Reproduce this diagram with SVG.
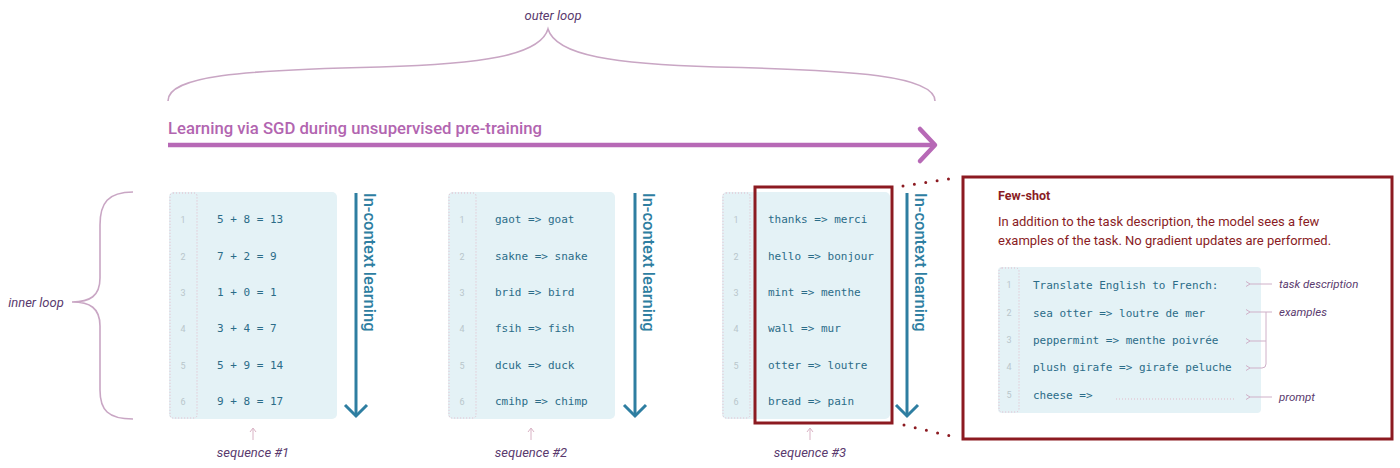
<svg xmlns="http://www.w3.org/2000/svg" width="1400" height="468" viewBox="0 0 1400 468">
<defs>
<style>
.lbl{font-family:Roboto,"Liberation Sans",sans-serif;font-style:italic;font-size:13px;fill:#5a3a6e}
.ann{font-family:Roboto,"Liberation Sans",sans-serif;font-style:italic;font-size:11.5px;fill:#5a3a6e}
.mono{font-family:"DejaVu Sans Mono","Liberation Mono",monospace;font-size:11px;fill:#2b6c88}
.num{font-family:Roboto,"Liberation Sans",sans-serif;font-size:9px;fill:#b9c6cb;text-anchor:middle}
.panel{fill:#e4f2f6}
.col{fill:none;stroke:#e2b9c9;stroke-width:1;stroke-dasharray:1 2}
.brace{fill:none;stroke:#c9a6c4;stroke-width:1.6}
.icl{font-family:Roboto,"Liberation Sans",sans-serif;font-weight:500;font-size:16.5px;fill:#2e7ea1}
.iclarrow{fill:none;stroke:#2e7ea1;stroke-width:3}
.red{fill:none;stroke:#8c1a21;stroke-width:3}
.dots{fill:none;stroke:#8c1a21;stroke-width:3;stroke-linecap:round;stroke-dasharray:0 11.5}
.thin{fill:none;stroke:#cfb0c8;stroke-width:1}
.seqarrow{fill:none;stroke:#d9b2c4;stroke-width:1}
</style>
<marker id="ah" markerWidth="8" markerHeight="8" refX="1" refY="4" orient="auto" markerUnits="userSpaceOnUse">
<path d="M5,1.5 L1,4 L5,6.5" fill="none" stroke="#cfb0c8" stroke-width="1"/>
</marker>
</defs>

<!-- outer loop -->
<g id="outer-loop">
<text class="lbl" x="553" y="20" text-anchor="middle" font-size="12">outer loop</text>
<path class="brace" d="M168,101 C168,76 240,70 380,67 C480,64 540,56 548,29 C556,56 616,64 716,67 C856,70 935,76 935,101"/>
</g>

<g id="sgd">
<text x="168" y="134" font-family="Roboto,'Liberation Sans',sans-serif" font-weight="500" font-size="16.7" fill="#b265b0">Learning via SGD during unsupervised pre-training</text>
<line x1="168" y1="145" x2="933" y2="145" stroke="#b769b6" stroke-width="4.5"/>
<path d="M920,129 L935,145 L920,161" fill="none" stroke="#b769b6" stroke-width="4.5" stroke-linecap="round" stroke-linejoin="round"/>
</g>

<!-- inner loop -->
<g id="inner-loop">
<text class="lbl" x="36" y="307" text-anchor="middle" font-size="12.5">inner loop</text>
<path class="brace" d="M133,192 C108,192 100,203 100,225 L100,278 C100,296 90,302 72,302 C90,302 100,308 100,326 L100,390 C100,410 108,419 133,419"/>
</g>

<!-- sequence 1 -->
<g id="seq1">
<rect class="panel" x="169" y="192" width="168" height="227" rx="5"/>
<rect class="col" x="170" y="193" width="27" height="225" rx="3"/>
<text class="num" x="183" y="223">1</text>
<text class="num" x="183" y="260">2</text>
<text class="num" x="183" y="296">3</text>
<text class="num" x="183" y="332">4</text>
<text class="num" x="183" y="369">5</text>
<text class="num" x="183" y="405">6</text>
<text class="mono" x="217" y="223">5 + 8 = 13</text>
<text class="mono" x="217" y="260">7 + 2 = 9</text>
<text class="mono" x="217" y="296">1 + 0 = 1</text>
<text class="mono" x="217" y="332">3 + 4 = 7</text>
<text class="mono" x="217" y="369">5 + 9 = 14</text>
<text class="mono" x="217" y="405">9 + 8 = 17</text>
<line class="iclarrow" x1="356" y1="193" x2="356" y2="416"/>
<path class="iclarrow" d="M345,405 L356,416 L367,405"/>
<text class="icl" transform="translate(364,193) rotate(90)">In-context learning</text>
<path class="seqarrow" d="M253,440 L253,429 M250,432 L253,428 L256,432"/>
<text class="lbl" x="253" y="457" text-anchor="middle">sequence #1</text>
</g>

<!-- sequence 2 -->
<g id="seq2">
<rect class="panel" x="448" y="192" width="167" height="227" rx="5"/>
<rect class="col" x="449" y="193" width="27" height="225" rx="3"/>
<text class="num" x="462" y="223">1</text>
<text class="num" x="462" y="260">2</text>
<text class="num" x="462" y="296">3</text>
<text class="num" x="462" y="332">4</text>
<text class="num" x="462" y="369">5</text>
<text class="num" x="462" y="405">6</text>
<text class="mono" x="495" y="223">gaot =&gt; goat</text>
<text class="mono" x="495" y="260">sakne =&gt; snake</text>
<text class="mono" x="495" y="296">brid =&gt; bird</text>
<text class="mono" x="495" y="332">fsih =&gt; fish</text>
<text class="mono" x="495" y="369">dcuk =&gt; duck</text>
<text class="mono" x="495" y="405">cmihp =&gt; chimp</text>
<line class="iclarrow" x1="635" y1="193" x2="635" y2="416"/>
<path class="iclarrow" d="M624,405 L635,416 L646,405"/>
<text class="icl" transform="translate(643,193) rotate(90)">In-context learning</text>
<path class="seqarrow" d="M531,440 L531,429 M528,432 L531,428 L534,432"/>
<text class="lbl" x="531" y="457" text-anchor="middle">sequence #2</text>
</g>

<!-- sequence 3 -->
<g id="seq3">
<rect class="panel" x="722" y="192" width="168" height="227" rx="5"/>
<rect class="col" x="723" y="193" width="27" height="225" rx="3"/>
<text class="num" x="736" y="223">1</text>
<text class="num" x="736" y="260">2</text>
<text class="num" x="736" y="296">3</text>
<text class="num" x="736" y="332">4</text>
<text class="num" x="736" y="369">5</text>
<text class="num" x="736" y="405">6</text>
<text class="mono" x="768" y="223">thanks =&gt; merci</text>
<text class="mono" x="768" y="260">hello =&gt; bonjour</text>
<text class="mono" x="768" y="296">mint =&gt; menthe</text>
<text class="mono" x="768" y="332">wall =&gt; mur</text>
<text class="mono" x="768" y="369">otter =&gt; loutre</text>
<text class="mono" x="768" y="405">bread =&gt; pain</text>
<rect class="red" x="755" y="187" width="137" height="236"/>
<line class="iclarrow" x1="907" y1="193" x2="907" y2="416"/>
<path class="iclarrow" d="M896,405 L907,416 L918,405"/>
<text class="icl" transform="translate(915,193) rotate(90)">In-context learning</text>
<path class="seqarrow" d="M810,440 L810,429 M807,432 L810,428 L813,432"/>
<text class="lbl" x="810" y="457" text-anchor="middle">sequence #3</text>
</g>

<!-- connectors: zoom dotted lines -->
<g id="connectors">
<path class="dots" d="M903,186 L955,178"/>
<path class="dots" d="M904,425 L955,437"/>
</g>

<!-- few-shot box -->
<g id="few-shot">
<rect x="963" y="177" width="429" height="262" fill="#ffffff" stroke="#8c1a21" stroke-width="3"/>
<text x="998" y="200" font-family="Roboto,'Liberation Sans',sans-serif" font-weight="bold" font-size="12.5" fill="#8a1c24">Few-shot</text>
<text x="998" y="226" font-family="Roboto,'Liberation Sans',sans-serif" font-size="13" fill="#8a1c24">In addition to the task description, the model sees a few</text>
<text x="998" y="245" font-family="Roboto,'Liberation Sans',sans-serif" font-size="13" fill="#8a1c24">examples of the task. No gradient updates are performed.</text>
<rect class="panel" x="998" y="267" width="263" height="146" rx="4"/>
<rect class="col" x="999" y="268" width="20" height="144" rx="3"/>
<text class="num" x="1009" y="288">1</text>
<text class="num" x="1009" y="316">2</text>
<text class="num" x="1009" y="343">3</text>
<text class="num" x="1009" y="370">4</text>
<text class="num" x="1009" y="398">5</text>
<text class="mono" x="1033" y="289">Translate English to French:</text>
<text class="mono" x="1033" y="317">sea otter =&gt; loutre de mer</text>
<text class="mono" x="1033" y="344">peppermint =&gt; menthe poivrée</text>
<text class="mono" x="1033" y="371">plush girafe =&gt; girafe peluche</text>
<text class="mono" x="1033" y="399">cheese =&gt;</text>
<line x1="1116" y1="399" x2="1235" y2="399" stroke="#e2b9c9" stroke-width="1" stroke-dasharray="1 2"/>
<line class="thin" x1="1272" y1="284" x2="1250" y2="284" marker-end="url(#ah)"/>
<line class="thin" x1="1272" y1="312" x2="1250" y2="312" marker-end="url(#ah)"/>
<path class="thin" d="M1266,312 L1266,364 Q1266,368 1262,368"/>
<line class="thin" x1="1266" y1="341" x2="1250" y2="341" marker-end="url(#ah)"/>
<line class="thin" x1="1262" y1="368" x2="1250" y2="368" marker-end="url(#ah)"/>
<line class="thin" x1="1272" y1="397" x2="1250" y2="397" marker-end="url(#ah)"/>
<text class="ann" x="1279" y="288">task description</text>
<text class="ann" x="1279" y="316">examples</text>
<text class="ann" x="1279" y="401">prompt</text>
</g>
</svg>
